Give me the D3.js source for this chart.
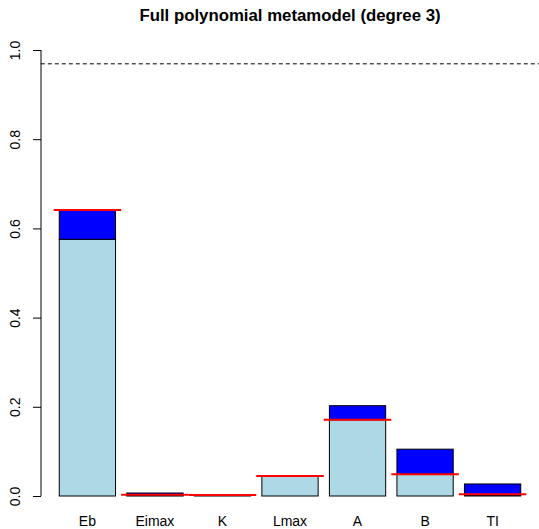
<!DOCTYPE html>
<html>
<head>
<meta charset="utf-8">
<script src="https://cdn.jsdelivr.net/npm/d3@7"></script>
<style>
html, body { margin: 0; padding: 0; background: #fff; }
svg { display: block; }
text { font-family: "Liberation Sans", Arial, Helvetica, sans-serif; fill: #000; }
</style>
</head>
<body>
<script>
const categories = ["Eb", "Eimax", "K", "Lmax", "A", "B", "TI"];
const firstOrder = [0.5755, 0.001, 0.002, 0.045, 0.171, 0.0487, 0.002];
const totalOrder = [0.641, 0.0067, 0.003, 0.045, 0.2025, 0.105, 0.027];
const redMarks   = [0.641, 0.003, 0.002, 0.045, 0.171, 0.0487, 0.004];
const threshold = 0.969;
const yTicks = [0, 0.2, 0.4, 0.6, 0.8, 1.0];
const title = "Full polynomial metamodel (degree 3)";

const W = 539, H = 529;
const svg = d3.select("body").append("svg").attr("width", W).attr("height", H);

const n = categories.length;
const space = 0.2;
const xMin = space, xMax = n * (1 + space);
const ext = (xMax - xMin) * 0.04;
const x = d3.scaleLinear().domain([xMin - ext, xMax + ext]).range([40.8, 539.2]);
const y = d3.scaleLinear().domain([0, 1]).range([496, 50]);

const left = i => space + i * (1 + space);

const g = svg.append("g");

// first-order (lightblue)
g.selectAll("rect.s").data(categories).enter().append("rect")
  .attr("class", "s")
  .attr("x", (d, i) => x(left(i)))
  .attr("width", (d, i) => x(left(i) + 1) - x(left(i)))
  .attr("y", (d, i) => y(firstOrder[i]))
  .attr("height", (d, i) => y(0) - y(firstOrder[i]))
  .attr("fill", "lightblue")
  .attr("stroke", "#000").attr("stroke-width", 1);

// interactions (blue), stacked
g.selectAll("rect.t").data(categories).enter().append("rect")
  .attr("class", "t")
  .attr("x", (d, i) => x(left(i)))
  .attr("width", (d, i) => x(left(i) + 1) - x(left(i)))
  .attr("y", (d, i) => y(totalOrder[i]))
  .attr("height", (d, i) => y(firstOrder[i]) - y(totalOrder[i]))
  .attr("fill", "#0000ff")
  .attr("stroke", "#000").attr("stroke-width", 1);

// red marks
g.selectAll("line.r").data(categories).enter().append("line")
  .attr("class", "r")
  .attr("x1", (d, i) => x(left(i) - 0.1))
  .attr("x2", (d, i) => x(left(i) + 1.1))
  .attr("y1", (d, i) => y(redMarks[i]))
  .attr("y2", (d, i) => y(redMarks[i]))
  .attr("stroke", "#ff0000").attr("stroke-width", 2);

// threshold dashed line
svg.append("line")
  .attr("x1", x.range()[0]).attr("x2", x.range()[1])
  .attr("y1", y(threshold)).attr("y2", y(threshold))
  .attr("stroke", "#000").attr("stroke-width", 1)
  .attr("stroke-dasharray", "4,3");

// y axis
const yAxis = d3.axisLeft(y).tickValues(yTicks).tickFormat(d3.format(".1f")).tickSize(8).tickSizeOuter(0);
const ya = svg.append("g").attr("transform", "translate(41,0)").call(yAxis);
ya.select(".domain").attr("d", `M0,${y(0)}V${y(1)}`).attr("stroke", "#000");
ya.selectAll(".tick line").attr("stroke", "#000");
ya.selectAll(".tick text")
  .attr("x", null).attr("dy", null)
  .attr("transform", "translate(-21.5,0) rotate(-90)")
  .attr("text-anchor", "middle")
  .style("font-size", "14px")
  .style("font-family", "'Liberation Sans', Arial, sans-serif");

// x labels
svg.selectAll("text.xl").data(categories).enter().append("text")
  .attr("class", "xl")
  .attr("x", (d, i) => x(left(i) + 0.5))
  .attr("y", 526)
  .attr("text-anchor", "middle")
  .style("font-size", "14px")
  .text(d => d);

// title
svg.append("text")
  .attr("x", (x.range()[0] + x.range()[1]) / 2)
  .attr("y", 21)
  .attr("text-anchor", "middle")
  .style("font-size", "16.8px")
  .style("font-weight", "bold")
  .text(title);
</script>
</body>
</html>
